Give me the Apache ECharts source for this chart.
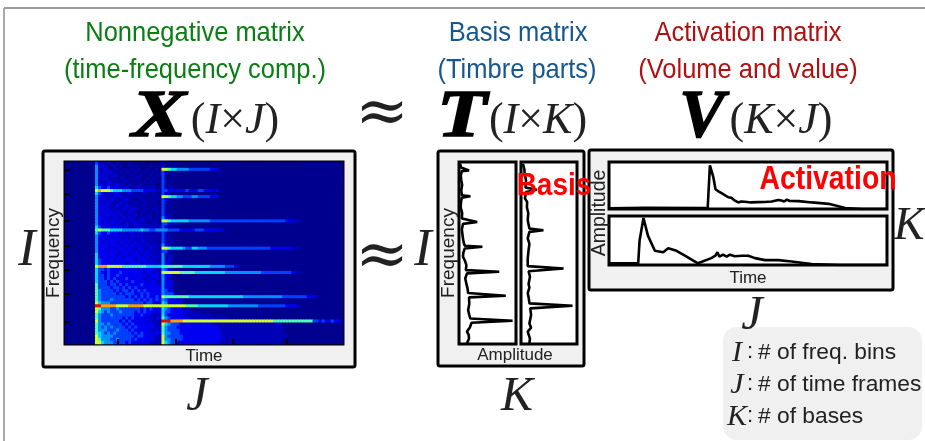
<!DOCTYPE html>
<html><head><meta charset="utf-8">
<script src="https://cdn.jsdelivr.net/npm/echarts@6/dist/echarts.min.js"></script>
<style>html,body{margin:0;padding:0;background:#fff}#c{width:925px;height:441px;filter:blur(0.4px)}</style>
</head><body><div id="c"></div>
<script>
// Spectrogram intensity levels. Rows run top to bottom.
// Left part starts at the first note onset, right part at the second note onset.
const firstOnsetCol = 10, secondOnsetCol = 32, colCount = 92;
const spectrogramRows = [
"3110100100010000000000|1",
"4121011010010100001000|2",
"4112101101001010010010|7765544443333333222",
"4211211010110100100100|3210",
"4121112101001011001010|3100",
"4212111011010110010100|3000",
"4111211101101010101000|3100",
"4221211211011011010100|3010",
"5322322211211111111100|3101",
"7877765554443333222211|3322222232223322212",
"5321212211121101110100|3110",
"4221112121110111010110|7765544333443333222",
"4212121111211011101010|3210010",
"4121211121101110110100|3101",
"4212111211211101101010|3010",
"4221211112112110110110|3100",
"4122121211121101101010|3101",
"4212212121111211011010|3110",
"4221212112121101111010|4210",
"4212122121112112101110|7765555554444444333333333333333333333333322211",
"4222121211211211110110|3320110",
"5322222221211212112111|3101",
"6766655554444445443344|443333222223332222221",
"5322322212122112111111|3110",
"4222122212112121111110|3101",
"4221221221212112111101|3110",
"4212222122121212111110|3101",
"4222122212212121121111|4210",
"4222221222122122112111|7765555433554443333333333333333333332222222111",
"4222122212221212121111|3310",
"5222222122212221212111|4110",
"5222222221222122121211|4111",
"5322221222222122212111|4121",
"5322222222122221221211|4210",
"7888777776666666655555|66666665555555554444433321",
"5332322222222212222211|4321",
"5322322232222222122121|7777776666655555555554444444444443333333333211",
"5332322322222222212221|4221",
"5332323222322222122121|4211",
"5333232322223222212211|4221",
"6333233232322223222221|4222",
"6333323323232322222222|4221",
"6433332323323232322222|4322",
"6433333232333223232222|4333",
"6433333333232323232232|7666666665555555555555555554444444444444333333332221",
"6433343333333232323232|4322212",
"7544433333333333233222|5422222",
"9988888777788888777777|7777777766665555555555444444444433333333322221",
"7644433433333332323222|5432222111",
"7543433343333232322212|5332222211111",
"6433343333333223222111|5322222111111111",
"6433333332323222221121|6432222221111111111111",
"7433333323232222212111|999888877777777777777777777777777777766666666666663323223221",
"6443433332323222222111|7543332222222222211111111111111111111111",
"6434343333232322222211|64333222222222222221111111111111111111111",
"6444333433323222221121|6433332222222222222111111111111111111111",
"6543434333332323222222|64433322222222222222111111111111111111111",
"7544443333333233222111|743333322222222222221111111111111111111111",
"7644433433332322222211|7443333222222222222211111111111111111111",
"7754443333232222221111|7543322222222222222111111111111111111111"
];
const spectrogramTickRows = [2, 10, 19, 27, 35, 43, 52];
const spectrogramTickCols = [17, 36, 55, 73];
const jetLevels = ['#00008f','#0000b8','#0000f0','#0040ff','#0090ff','#00d8ff','#50ffb0','#d0ff30','#ffa000','#e01000'];

// Basis spectra: frequency (0-100 bottom to top) and amplitude (0-100)
const basis1Freq = [99,97,96,95.4,95,92.5,90,87.5,84.5,81.7,81.2,80.4,78,75,72,69,67,66,63,59,56,54,53.4,52.5,50,48,46,43.3,40.6,39.7,38.8,36,33,30.5,28,26.5,25.6,22,18.6,16,14,12.8,11.7,9,6.8,5,3,0.4];
const basis1Amp  = [2,3.5,4,17.6,5,3,4,5.5,4,5,20,5,3.5,3,5.5,5,32,7,5,6.5,8,10,41,10,7.5,7,10,13,12,70.6,14,11,13,15,16,82,17.6,18,16,18,20,94,22,19,14,17,17.6,14];
const basis2Freq = [99,96,93.6,90,86,84.8,83.5,80,78,75,72,68,65,63.4,62.5,61.6,58,55,51.5,47,42.8,41.5,40,37,33,31,28,25,22.3,21,19.6,16,11.3,9,6.8,3,0.4];
const basis2Amp  = [3.5,6,6.5,9,8,28,9,7,11,10.6,13,12,14,15,40,15,12,15,13.5,12,12,76,13.5,16,13.5,15,12,14,15,92,16.5,18,15,18,12,16,15];

// Activations: time (0-100) and amplitude (0-100)
const act1Time = [0,12.9,35.5,36.3,37.5,38.3,39.5,40.5,41.5,42.9,44,45,46.5,47.5,48.9,51,53.7,56,58.5,60.9,62,63,64,65,68.2,73,79,85,91,100];
const act1Amp  = [1.4,2.8,2,93,68.5,42,37,33.6,30,25,24,19,14,16,15.4,14,14.7,15,16,19,18,16,20,17,16.8,14,11,2,0,0];
const act2Time = [0,10.5,11,12.4,14,16.5,19.5,21.3,24.3,27.3,32,36.8,38.3,39,39.7,41,42.3,43.5,45.3,47.7,50.1,52.5,56.1,60.9,65.7,72.9,82.6,100];
const act2Amp  = [3.4,3.4,50,96,60,29,26,34,29,19,3.4,14,19,26,17,21,17,21,18,19,19,14,10,10,7,2,0,0];

const titleLines = [
  ['Nonnegative matrix', 195, 33, '#0a7d14'], ['(time-frequency comp.)', 195, 70, '#0a7d14'],
  ['Basis matrix', 518, 33, '#15578f'], ['(Timbre parts)', 517, 70, '#15578f'],
  ['Activation matrix', 748, 33, '#b01010'], ['(Volume and value)', 748, 70, '#b01010']
];
const legendNames = ['I', 'J', 'K'];
const legendTexts = ['# of freq. bins', '# of time frames', '# of bases'];

const SANS = '"Liberation Sans", Arial, sans-serif';
const SERIF = '"Liberation Serif", serif';
const zip = (a, b) => a.map((v, i) => [v, b[i]]);

const heatData = [];
spectrogramRows.forEach((row, r) => {
  const parts = row.split('|');
  const levels = new Array(colCount).fill(0);
  [...parts[0]].forEach((d, i) => { levels[firstOnsetCol + i] = +d; });
  [...parts[1]].forEach((d, i) => { if (secondOnsetCol + i < colCount) levels[secondOnsetCol + i] = +d; });
  levels.forEach((v, c) => heatData.push([c, r, v]));
});
const colCats = Array.from({length: colCount}, (_, i) => i);
const rowCats = spectrogramRows.map((_, i) => i);

const nameStyle = (size) => ({fontFamily: SANS, fontSize: size, color: '#222'});
const bareAxis = (extra) => Object.assign({
  type: 'value', min: 0, max: 100, axisLine: {show: false}, axisTick: {show: false},
  axisLabel: {show: false}, splitLine: {show: false}
}, extra);
const frame = (left, top, right, bottom, bg) => ({
  left, top, width: right - left, height: bottom - top, show: true,
  backgroundColor: bg, borderColor: '#000', borderWidth: 3, containLabel: false
});
const lineSeries = (idx, data) => ({
  type: 'line', xAxisIndex: idx, yAxisIndex: idx, data, showSymbol: false, symbol: 'none',
  lineStyle: {color: '#000', width: 2.6}, z: 3, animation: false
});
const txt = (text, x, y, size, color, o) => {
  o = o || {};
  return {
    type: 'text', x, y, z: o.z || 50, rotation: o.rot || 0, scaleX: o.sx || 1, scaleY: o.sy || 1, silent: true,
    style: {text, fontFamily: o.font || SANS, fontSize: size, fontWeight: o.weight || 'normal',
      fontStyle: o.fstyle || 'normal', fill: color, align: o.align || 'center', verticalAlign: 'middle', rich: o.rich,
      stroke: o.stroke, lineWidth: o.stroke ? (o.lw || 1) : 0}
  };
};
const panel = (x1, y1, x2, y2) => ({
  type: 'rect', z: -1, silent: true, shape: {x: x1, y: y1, width: x2 - x1, height: y2 - y1, r: 2},
  style: {fill: '#f0f0f0', stroke: '#000', lineWidth: 3}
});
const mathRich = {
  i: {fontFamily: SERIF, fontStyle: 'italic', fontSize: 44, fill: '#222'},
  r: {fontFamily: SERIF, fontSize: 44, fill: '#222'}
};
const dims = (a, b) => `{r|(}{i|${a}}{r|×}{i|${b}}{r|)}`;
const mathOpts = {font: SERIF, fstyle: 'italic'};

const elements = [
  {type: 'line', z: -2, silent: true, shape: {x1: 4, y1: 8, x2: 925, y2: 8}, style: {stroke: '#777', lineWidth: 1.5}},
  {type: 'line', z: -2, silent: true, shape: {x1: 4, y1: 8, x2: 4, y2: 441}, style: {stroke: '#aaa', lineWidth: 2}},
  panel(43, 151, 355, 367), panel(438, 151, 584, 366), panel(589, 150, 893, 290),
  {type: 'rect', z: -1, silent: true, shape: {x: 723, y: 327, width: 199, height: 113, r: 14}, style: {fill: '#f0f0f0'}}
];
titleLines.forEach(t => elements.push(txt(t[0], t[1], t[2], 28, t[3], {sx: 0.91})));
[['X', 159, 1.2], ['T', 462, 1.2], ['V', 702, 1.0]].forEach(m =>
  elements.push(txt(m[0], m[1], 118, 68, '#000', {font: SERIF, weight: 'bold', fstyle: 'italic', sx: m[2], stroke: '#000', lw: 1.5})));
elements.push(
  txt(dims('I','J'), 235, 121, 44, '#222', {rich: mathRich}),
  txt(dims('I','K'), 538, 121, 44, '#222', {rich: mathRich}),
  txt(dims('K','J'), 781, 121, 44, '#222', {rich: mathRich}),
  txt('≈', 382, 115, 64, '#222', {font: '"DejaVu Serif", serif'}),
  txt('≈', 382, 258, 64, '#222', {font: '"DejaVu Serif", serif'}),
  txt('I', 27, 251, 52, '#222', mathOpts),
  txt('I', 423, 251, 52, '#222', mathOpts),
  txt('J', 197, 397, 48, '#222', mathOpts),
  txt('K', 517, 397, 48, '#222', mathOpts),
  txt('K', 909, 227, 46, '#222', mathOpts),
  txt('J', 752, 316, 48, '#222', mathOpts),
  txt('Amplitude', 515, 355, 17, '#222'),
  txt('Amplitude', 600, 213, 19.5, '#222', {rot: Math.PI / 2}),
  txt('Basis', 554, 186, 32, '#ff0000', {weight: 'bold', sx: 0.875, z: 60}),
  txt('Activation', 828, 180, 33, '#ff0000', {weight: 'bold', sx: 0.86, z: 60})
);
legendNames.forEach((n, i) => {
  const y = 353 + i * 32;
  elements.push(txt(n, 737, y, 30, '#222', mathOpts));
  elements.push(txt(':', 750, y - 1, 22, '#222'));
  elements.push(txt(legendTexts[i], 758, y, 22.8, '#222', {align: 'left'}));
});

const option = {
  animation: false,
  backgroundColor: '#fff',
  graphic: {elements},
  visualMap: {show: false, seriesIndex: 0, min: 0, max: 9, inRange: {color: jetLevels}},
  grid: [
    frame(65, 162, 343, 344, '#00008f'),
    frame(459, 162, 516, 344, '#fff'),
    frame(521, 162, 577, 344, '#fff'),
    frame(609, 162, 887, 209, '#fff'),
    frame(609, 216, 887, 265, '#fff')
  ],
  xAxis: [
    {type: 'category', gridIndex: 0, data: colCats, position: 'bottom', z: 5,
     name: 'Time', nameLocation: 'middle', nameGap: 4, nameTextStyle: nameStyle(17),
     axisLine: {show: false}, axisLabel: {show: false}, splitLine: {show: false},
     axisTick: {show: true, inside: true, length: 5, alignWithLabel: true,
       interval: (i) => spectrogramTickCols.includes(i), lineStyle: {color: '#000', width: 2}}},
    bareAxis({gridIndex: 1}), bareAxis({gridIndex: 2}),
    bareAxis({gridIndex: 3}),
    bareAxis({gridIndex: 4, name: 'Time', nameLocation: 'middle', nameGap: 5, nameTextStyle: nameStyle(17)})
  ],
  yAxis: [
    {type: 'category', gridIndex: 0, data: rowCats, inverse: true, z: 5,
     name: 'Frequency', nameLocation: 'middle', nameGap: 2, nameTextStyle: nameStyle(19),
     axisLine: {show: false}, axisLabel: {show: false}, splitLine: {show: false},
     axisTick: {show: true, inside: true, length: 5, alignWithLabel: true,
       interval: (i) => spectrogramTickRows.includes(i), lineStyle: {color: '#000', width: 2}}},
    bareAxis({gridIndex: 1, name: 'Frequency', nameLocation: 'middle', nameGap: 1, nameTextStyle: nameStyle(19)}),
    bareAxis({gridIndex: 2}), bareAxis({gridIndex: 3}), bareAxis({gridIndex: 4})
  ],
  series: [
    {type: 'heatmap', xAxisIndex: 0, yAxisIndex: 0, data: heatData, progressive: 0, silent: true,
     itemStyle: {borderWidth: 0}, emphasis: {disabled: true}},
    lineSeries(1, zip(basis1Amp, basis1Freq)),
    lineSeries(2, zip(basis2Amp, basis2Freq)),
    lineSeries(3, zip(act1Time, act1Amp)),
    lineSeries(4, zip(act2Time, act2Amp))
  ]
};
const chart = echarts.init(document.getElementById('c'), null, {renderer: 'canvas'});
chart.setOption(option);
</script>
</body></html>
